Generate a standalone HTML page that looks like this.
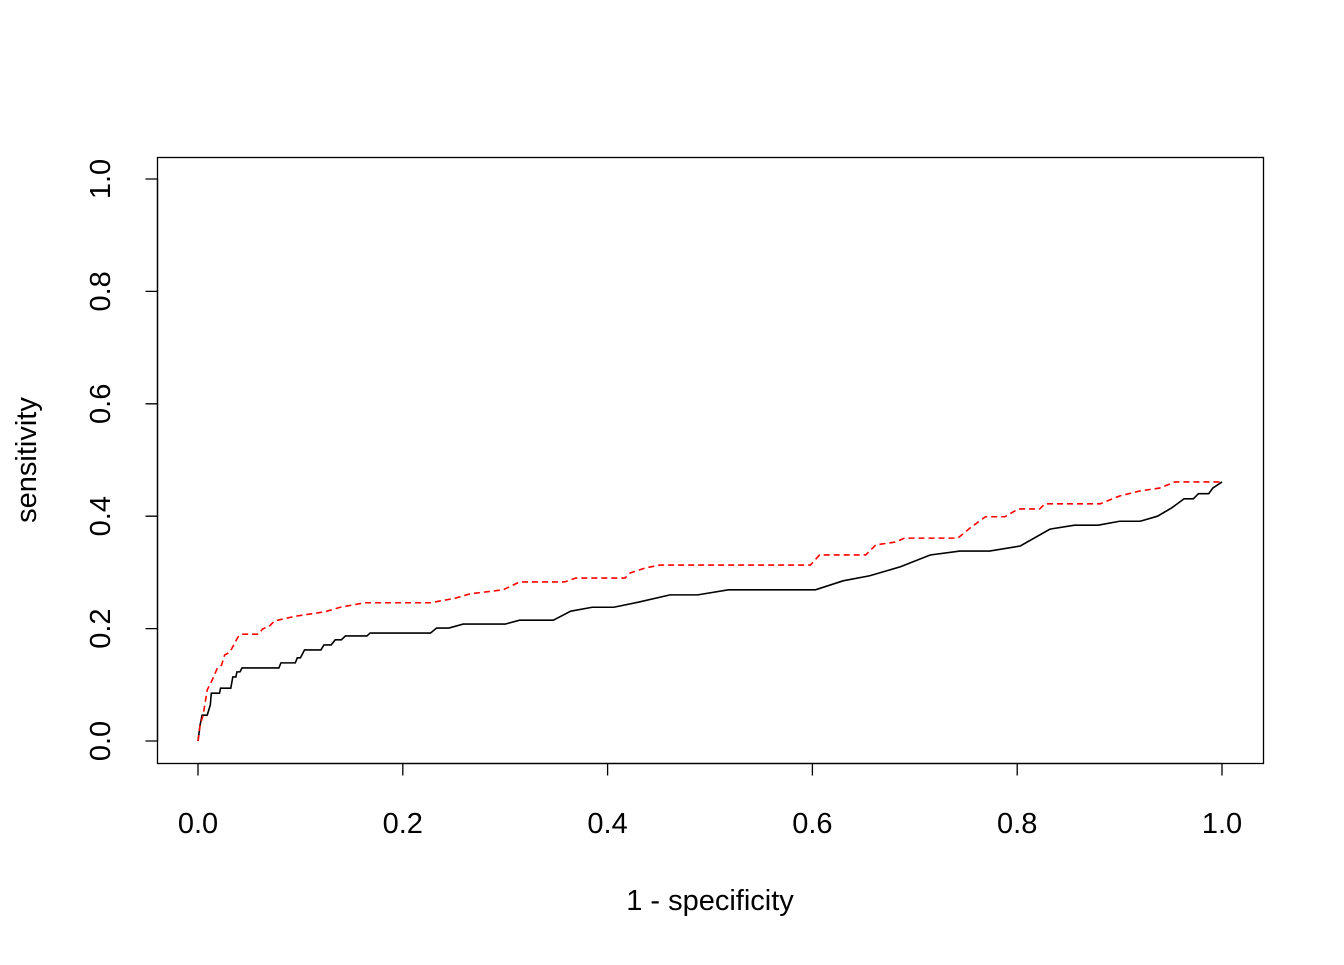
<!DOCTYPE html>
<html><head><meta charset="utf-8"><style>
body{margin:0;background:#fff}
svg text{font-family:"Liberation Sans",sans-serif;font-size:29px;fill:#000}
</style></head><body>
<svg id="chart" width="1344" height="960" viewBox="0 0 1344 960" xmlns="http://www.w3.org/2000/svg">
<rect x="157.5" y="157.5" width="1106" height="606" fill="none" stroke="#000" stroke-width="1.3"/>
<g id="axes"></g>
<text x="710" y="910" text-anchor="middle">1 - specificity</text>
<text transform="translate(36,460) rotate(-90)" text-anchor="middle">sensitivity</text>
</svg>
<script>
const xTicks=[0,0.2,0.4,0.6,0.8,1.0];
const xTickLabels=["0.0","0.2","0.4","0.6","0.8","1.0"];
const yTicks=[0,0.2,0.4,0.6,0.8,1.0];
const yTickLabels=["0.0","0.2","0.4","0.6","0.8","1.0"];
const blackX=[0,0.002,0.004,0.009,0.012,0.013,0.021,0.022,0.032,0.034,0.037,0.038,0.041,0.043,0.079,0.081,0.095,0.097,0.100,0.104,0.120,0.123,0.130,0.134,0.140,0.144,0.165,0.168,0.227,0.233,0.245,0.259,0.300,0.314,0.347,0.364,0.385,0.406,0.430,0.461,0.488,0.518,0.603,0.630,0.656,0.686,0.715,0.744,0.773,0.803,0.832,0.856,0.879,0.900,0.920,0.937,0.951,0.963,0.972,0.977,0.987,0.991,1];
const blackY=[0,0.028,0.046,0.046,0.064,0.085,0.085,0.094,0.094,0.114,0.114,0.123,0.123,0.130,0.130,0.139,0.139,0.148,0.148,0.162,0.162,0.171,0.171,0.180,0.180,0.187,0.187,0.192,0.192,0.201,0.201,0.208,0.208,0.215,0.215,0.231,0.238,0.238,0.247,0.260,0.260,0.269,0.269,0.285,0.294,0.310,0.331,0.338,0.338,0.347,0.377,0.384,0.384,0.391,0.391,0.400,0.415,0.431,0.431,0.440,0.440,0.450,0.461];
const redX=[0,0.002,0.005,0.009,0.014,0.019,0.023,0.026,0.031,0.035,0.039,0.043,0.059,0.063,0.070,0.075,0.078,0.095,0.124,0.139,0.163,0.227,0.251,0.266,0.298,0.314,0.358,0.369,0.417,0.422,0.437,0.451,0.598,0.607,0.652,0.662,0.681,0.690,0.742,0.754,0.769,0.788,0.801,0.822,0.827,0.881,0.900,0.920,0.939,0.954,1];
const redY=[0,0.028,0.046,0.091,0.109,0.130,0.135,0.153,0.158,0.171,0.185,0.190,0.190,0.199,0.205,0.214,0.215,0.222,0.230,0.238,0.246,0.246,0.254,0.262,0.269,0.283,0.283,0.290,0.290,0.299,0.308,0.313,0.313,0.331,0.331,0.349,0.354,0.361,0.361,0.379,0.399,0.399,0.413,0.413,0.422,0.422,0.436,0.445,0.450,0.461,0.461];
const NS="http://www.w3.org/2000/svg";
const sx=v=>198+v*1024, sy=v=>741-v*562;
const svg=document.getElementById('chart'), g=document.getElementById('axes');
function mk(t,a){const e=document.createElementNS(NS,t);for(const k in a)e.setAttribute(k,a[k]);return e;}
let d="M"+sx(xTicks[0])+",763.5H"+sx(xTicks[xTicks.length-1]);
xTicks.forEach((t,i)=>{d+="M"+sx(t)+",763.5v12";
 const tx=mk('text',{x:sx(t),y:833,'text-anchor':'middle'});tx.textContent=xTickLabels[i];
 
 
 g.appendChild(tx);});
const xa=mk('path',{d:d,stroke:'#000','stroke-width':1.3,fill:'none'});


g.appendChild(xa);
let d2="M157.5,"+sy(yTicks[0])+"V"+sy(yTicks[yTicks.length-1]);
yTicks.forEach((t,i)=>{d2+="M157.5,"+sy(t)+"h-12";
 const tx=mk('text',{transform:`translate(110,${sy(t)}) rotate(-90)`,'text-anchor':'middle'});tx.textContent=yTickLabels[i];
 
 
 g.appendChild(tx);});
const ya=mk('path',{d:d2,stroke:'#000','stroke-width':1.3,fill:'none'});


g.appendChild(ya);
function line(X,Y,attrs){return mk('polyline',Object.assign({points:X.map((x,i)=>sx(x)+","+sy(Y[i])).join(" "),fill:'none','stroke-width':1.6},attrs));}
const bl=line(blackX,blackY,{stroke:'#000'});


svg.appendChild(bl);
const rl=line(redX,redY,{stroke:'#ff0000','stroke-dasharray':'6,4'});


svg.appendChild(rl);
</script>
</body></html>
